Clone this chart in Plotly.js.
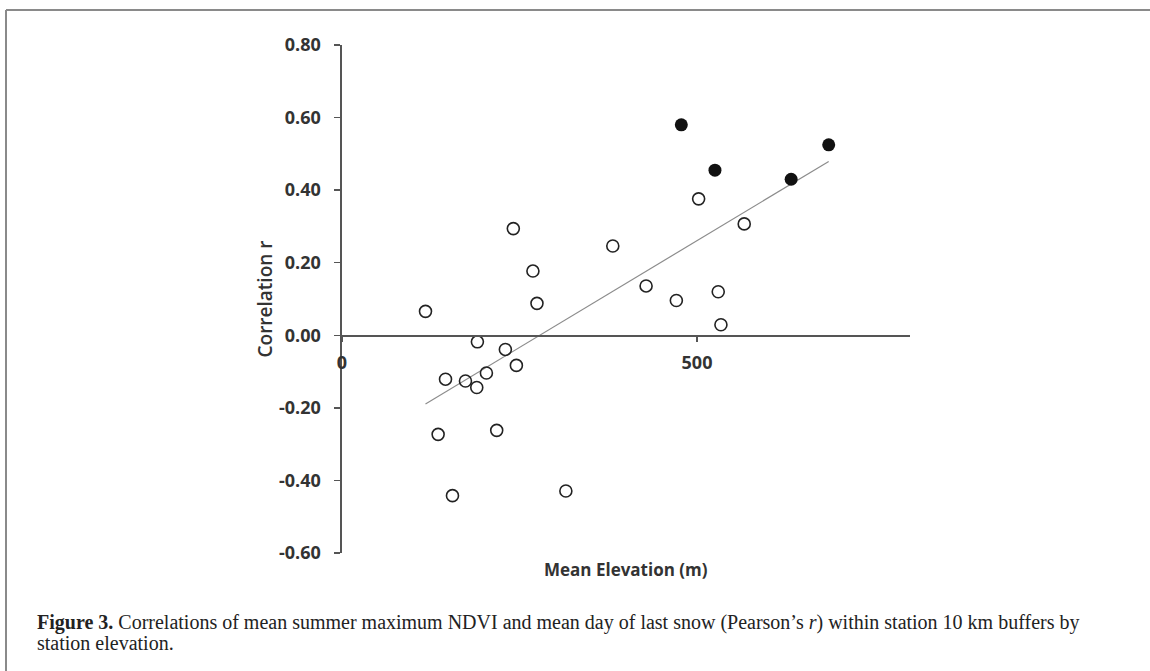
<!DOCTYPE html>
<html><head><meta charset="utf-8">
<script src="https://cdn.plot.ly/plotly-3.0.1.min.js"></script>
<style>html,body{margin:0;padding:0;background:#fff;} #chart{width:1150px;height:671px;}</style>
</head><body><div id="chart"></div>
<script>
// ---- data ----
const elevOpen = [117.6, 241.3, 268.9, 274.6, 190.7, 230.1, 245.6, 145.8, 173.9, 203.4, 189.8, 135.4, 217.9, 155.6, 315.3, 502.3, 566.5, 381.4, 428.3, 470.9, 529.9, 533.7];
const rOpen    = [0.066, 0.294, 0.177, 0.088, -0.018, -0.039, -0.083, -0.121, -0.126, -0.104, -0.144, -0.273, -0.262, -0.442, -0.429, 0.376, 0.307, 0.246, 0.136, 0.096, 0.120, 0.029];
const elevFilled = [477.9, 685.5, 525.3, 632.6];
const rFilled    = [0.580, 0.525, 0.455, 0.430];
const xTickVals = [0, 500];
const xTickText = ['0', '500'];
const yTickVals = [-0.6, -0.4, -0.2, 0.0, 0.2, 0.4, 0.6, 0.8];
const yTickText = ['-0.60', '-0.40', '-0.20', '0.00', '0.20', '0.40', '0.60', '0.80'];
const xTitle = 'Mean Elevation (m)';
const yTitle = 'Correlation r';
const captionLine1 = '<b>Figure 3.</b> Correlations of mean summer maximum NDVI and mean day of last snow (Pearson\u2019s <i>r</i>) within station 10 km buffers by';
const captionLine2 = 'station elevation.';

// ---- linear trendline (least squares over all stations) ----
const allX = elevOpen.concat(elevFilled), allY = rOpen.concat(rFilled);
const n = allX.length;
const mx = allX.reduce((a,b)=>a+b,0)/n, my = allY.reduce((a,b)=>a+b,0)/n;
let sxy = 0, sxx = 0;
for (let i=0;i<n;i++){ sxy += (allX[i]-mx)*(allY[i]-my); sxx += (allX[i]-mx)*(allX[i]-mx); }
const slope = sxy/sxx, icpt = my - slope*mx;
const xMin = Math.min(...allX), xMax = Math.max(...allX);
const trendX = [xMin, xMax], trendY = trendX.map(x => icpt + slope*x);

// ---- layout helpers ----
const W = 1150, H = 671, M = {l:342, r:240, t:45, b:118};
const pw = W - M.l - M.r, ph = H - M.t - M.b;
const px = v => (v - M.l) / pw;
const py = v => (H - M.b - v) / ph;
const yRange = [-0.6, 0.8];

const tickFont = {family:'"Open Sans", sans-serif', size:18, color:'#333', weight:'bold'};
const axisColor = '#555';

const traces = [
  {x: trendX, y: trendY, type:'scatter', mode:'lines', line:{color:'#8c8c8c', width:1.2}, hoverinfo:'skip', showlegend:false},
  {x: elevOpen, y: rOpen, type:'scatter', mode:'markers', marker:{symbol:'circle-open', size:12, color:'#222', line:{width:1.6}}, showlegend:false},
  {x: elevFilled, y: rFilled, type:'scatter', mode:'markers', marker:{symbol:'circle', size:13, color:'#111'}, showlegend:false}
];

const layout = {
  width: W, height: H,
  margin: M,
  paper_bgcolor:'#fff', plot_bgcolor:'#fff',
  showlegend:false,
  xaxis: {
    range:[0, 800], anchor:'free', position: (0 - yRange[0])/(yRange[1]-yRange[0]),
    showline:true, linecolor:axisColor, linewidth:1.6,
    showgrid:false, zeroline:false,
    ticks:'outside', ticklen:5, tickwidth:1.4, tickcolor:axisColor,
    tickvals:xTickVals, ticktext:xTickText, tickfont:tickFont, ticklabelstandoff:6
  },
  yaxis: {
    range:yRange, showline:true, linecolor:axisColor, linewidth:1.6,
    showgrid:false, zeroline:false,
    ticks:'outside', ticklen:6, tickwidth:1.4, tickcolor:axisColor,
    tickvals:yTickVals, ticktext:yTickText, tickfont:tickFont, ticklabelstandoff:10,
    title:{text:yTitle, font:{family:'"Open Sans", sans-serif', size:19, color:'#333', weight:600}, standoff:1}
  },
  annotations: [
    {text:xTitle, xref:'paper', yref:'paper', x:0.5, y:py(569), xanchor:'center', yanchor:'middle', showarrow:false,
     font:{family:'"Open Sans", sans-serif', size:17, color:'#333', weight:'bold'}},
    {text:captionLine1, xref:'paper', yref:'paper', x:px(35), y:py(622), xanchor:'left', yanchor:'middle', showarrow:false, align:'left',
     font:{family:'"Liberation Serif", serif', size:20, color:'#222'}},
    {text:captionLine2, xref:'paper', yref:'paper', x:px(35), y:py(643), xanchor:'left', yanchor:'middle', showarrow:false, align:'left',
     font:{family:'"Liberation Serif", serif', size:20, color:'#222'}}
  ],
  shapes: [
    {type:'line', xref:'paper', yref:'paper', x0:px(6), x1:px(1150), y0:py(10), y1:py(10), line:{color:'#8a8a8a', width:2}},
    {type:'line', xref:'paper', yref:'paper', x0:px(6), x1:px(6), y0:py(10), y1:py(671), line:{color:'#8a8a8a', width:2}}
  ]
};

Plotly.newPlot('chart', traces, layout, {displayModeBar:false, staticPlot:true});
</script>
</body></html>
